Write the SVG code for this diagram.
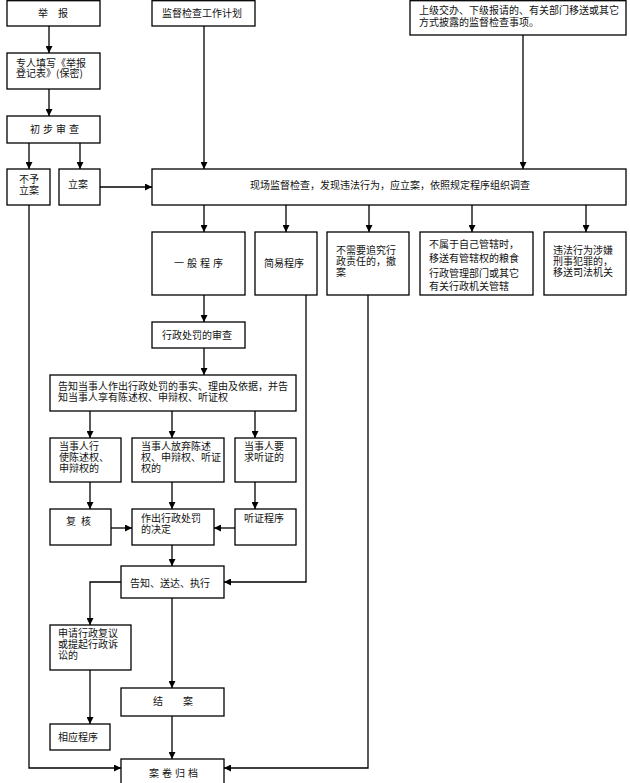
<svg xmlns="http://www.w3.org/2000/svg" width="630" height="783" viewBox="0 0 630 783">
<defs>
<marker id="ah" markerUnits="userSpaceOnUse" markerWidth="7" markerHeight="7" refX="7" refY="3.5" orient="auto">
<path d="M0,0 L7,3.5 L0,7 z" fill="#000"/>
</marker>
<style>
rect{fill:#fff;stroke:#000;stroke-width:1.3}
text{font-family:"Noto Sans CJK SC","Noto Sans",sans-serif;font-size:10px;fill:#111}
.c{text-anchor:middle}
#edges path{fill:none;stroke:#000;stroke-width:1.3}
.a{marker-end:url(#ah)}
</style>
</defs>
<rect x="0" y="0" width="630" height="783" style="fill:#fff;stroke:none"/>
<g id="edges">
<path class="a" d="M49,26 V53"/>
<path class="a" d="M49,89 V116"/>
<path class="a" d="M29,143 V169"/>
<path class="a" d="M80,143 V169"/>
<path class="a" d="M204,26 V169"/>
<path class="a" d="M523,35 V169"/>
<path class="a" d="M100,187 H152"/>
<path class="a" d="M204,205 V232"/>
<path class="a" d="M286,205 V232"/>
<path class="a" d="M369,205 V232"/>
<path class="a" d="M472,205 V232"/>
<path class="a" d="M586,205 V232"/>
<path class="a" d="M204,295 V322"/>
<path class="a" d="M204,348 V375"/>
<path class="a" d="M90,411 V438"/>
<path class="a" d="M172,411 V438"/>
<path class="a" d="M255,411 V438"/>
<path class="a" d="M90,482 V509"/>
<path class="a" d="M172,482 V509"/>
<path class="a" d="M255,482 V509"/>
<path class="a" d="M111,528 H132"/>
<path class="a" d="M235,528 H214"/>
<path class="a" d="M172,545 V566"/>
<path class="a" d="M306,295 V582 H224"/>
<path class="a" d="M121,582 H90 V625"/>
<path class="a" d="M90,670 V724"/>
<path class="a" d="M172,598 V688"/>
<path class="a" d="M172,716 V759"/>
<path class="a" d="M29,205 V768 H121"/>
<path class="a" d="M368,295 V768 H224"/>
</g>
<g id="n-jubao"><rect x="7" y="0.7" width="93" height="25.3"/><text class="c" x="53" y="17">举　报</text></g>
<g id="n-plan"><rect x="152" y="0.7" width="103" height="25.3"/><text x="162" y="17">监督检查工作计划</text></g>
<g id="n-source"><rect x="410" y="0.7" width="216" height="34.3"/><text x="419" y="14">上级交办、下级报请的、有关部门移送或其它<tspan x="419" dy="12">方式披露的监督检查事项。</tspan></text></g>
<g id="n-fill"><rect x="7" y="53" width="93" height="36"/><text x="16" y="67">专人填写《举报<tspan x="16" dy="10">登记表》(保密)</tspan></text></g>
<g id="n-prelim"><rect x="7" y="116" width="93" height="27"/><text class="c" x="56" y="133" letter-spacing="3">初步审查</text></g>
<g id="n-noreg"><rect x="7" y="169" width="43" height="36"/><text class="c" x="29" y="183">不予<tspan x="29" dy="11">立案</tspan></text></g>
<g id="n-reg"><rect x="59" y="169" width="41" height="36"/><text x="68" y="188">立案</text></g>
<g id="n-inspect"><rect x="152" y="169" width="474" height="36"/><text x="250" y="189">现场监督检查，发现违法行为，应立案，依照规定程序组织调查</text></g>
<g id="n-general"><rect x="152" y="232" width="93" height="63"/><text class="c" x="200" y="267" letter-spacing="3">一般程序</text></g>
<g id="n-simple"><rect x="255" y="232" width="62" height="63"/><text x="264" y="267">简易程序</text></g>
<g id="n-cancel"><rect x="327" y="232" width="82" height="63"/><text x="336" y="254">不需要追究行<tspan x="336" dy="11">政责任的，撤</tspan><tspan x="336" dy="11">案</tspan></text></g>
<g id="n-transfer"><rect x="420" y="232" width="113" height="63"/><text x="429" y="248">不属于自己管辖时，<tspan x="429" dy="14">移送有管辖权的粮食</tspan><tspan x="429" dy="15">行政管理部门或其它</tspan><tspan x="429" dy="13">有关行政机关管辖</tspan></text></g>
<g id="n-crime"><rect x="544" y="232" width="82" height="63"/><text x="553" y="254">违法行为涉嫌<tspan x="553" dy="11">刑事犯罪的，</tspan><tspan x="553" dy="11">移送司法机关</tspan></text></g>
<g id="n-review"><rect x="152" y="322" width="93" height="26"/><text x="162" y="339">行政处罚的审查</text></g>
<g id="n-notify"><rect x="50" y="375" width="246" height="36"/><text x="58" y="390">告知当事人作出行政处罚的事实、理由及依据，并告<tspan x="58" dy="11">知当事人享有陈述权、申辩权、听证权</tspan></text></g>
<g id="n-exercise"><rect x="50" y="438" width="71" height="44"/><text x="59" y="450">当事人行<tspan x="59" dy="11">使陈述权、</tspan><tspan x="59" dy="11">申辩权的</tspan></text></g>
<g id="n-waive"><rect x="132" y="438" width="92" height="44"/><text x="141" y="450">当事人放弃陈述<tspan x="141" dy="11">权、申辩权、听证</tspan><tspan x="141" dy="11">权的</tspan></text></g>
<g id="n-request"><rect x="235" y="438" width="61" height="44"/><text x="244" y="450">当事人要<tspan x="244" dy="11">求听证的</tspan></text></g>
<g id="n-recheck"><rect x="50" y="509" width="61" height="36"/><text class="c" x="81" y="525" letter-spacing="5">复核</text></g>
<g id="n-decide"><rect x="132" y="509" width="82" height="36"/><text x="141" y="522">作出行政处罚<tspan x="141" dy="11">的决定</tspan></text></g>
<g id="n-hearing"><rect x="235" y="509" width="61" height="36"/><text x="244" y="522">听证程序</text></g>
<g id="n-exec"><rect x="121" y="566" width="103" height="32"/><text x="130" y="587">告知、送达、执行</text></g>
<g id="n-appeal"><rect x="50" y="625" width="81" height="45"/><text x="58" y="637">申请行政复议<tspan x="58" dy="11">或提起行政诉</tspan><tspan x="58" dy="11">讼的</tspan></text></g>
<g id="n-close"><rect x="121" y="688" width="103" height="28"/><text class="c" x="173" y="705">结　　案</text></g>
<g id="n-proc"><rect x="50" y="724" width="60" height="26"/><text x="58" y="741">相应程序</text></g>
<g id="n-archive"><rect x="121" y="759" width="103" height="30"/><text class="c" x="175" y="777" letter-spacing="3">案卷归档</text></g>
</svg>
